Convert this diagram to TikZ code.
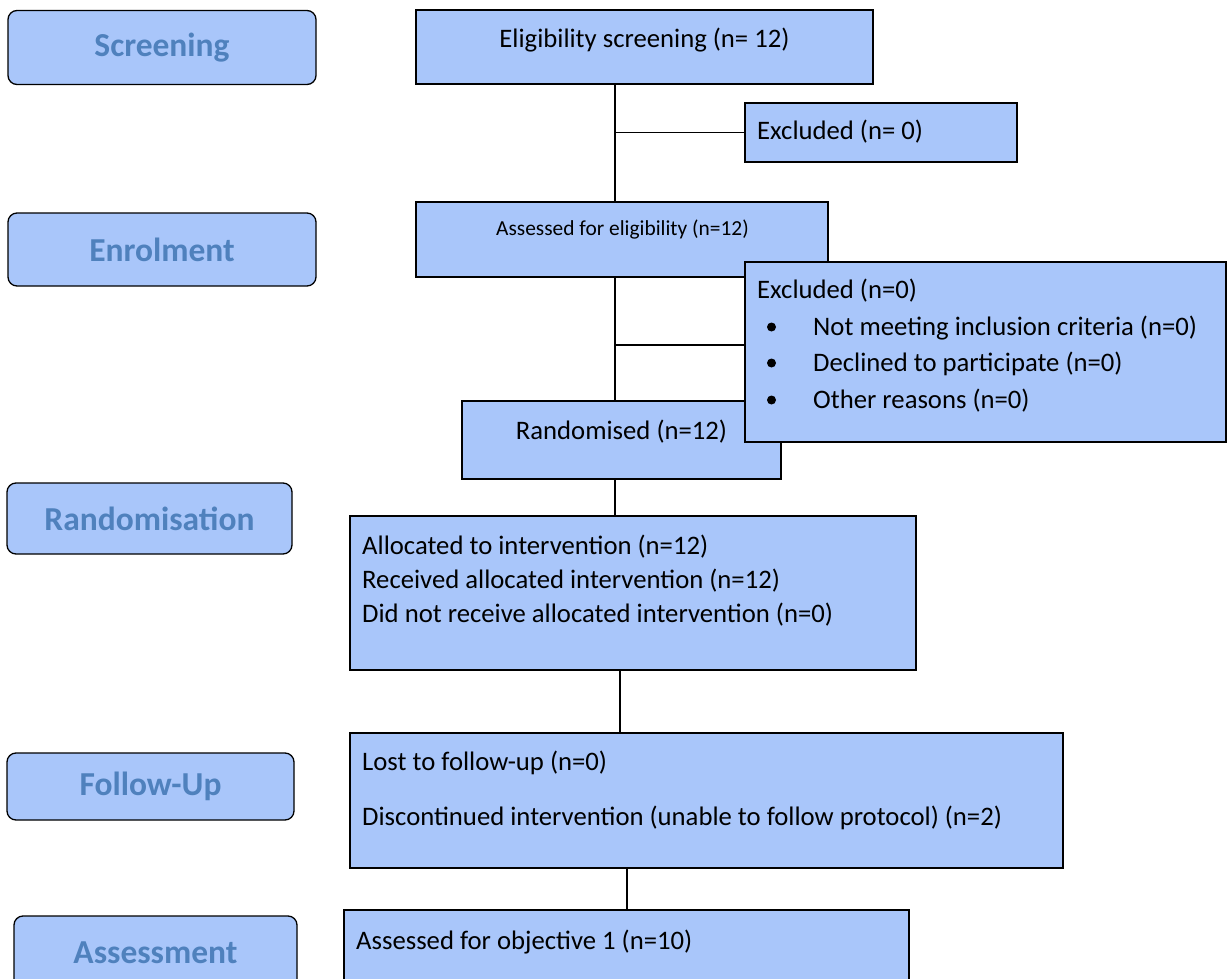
\documentclass[tikz,border=0pt]{standalone}
\usepackage{fontspec}
\setmainfont{Carlito}
\usetikzlibrary{calc}
\definecolor{boxfill}{RGB}{169,198,250}
\definecolor{stagetext}{RGB}{79,129,189}
\begin{document}
\begin{tikzpicture}[x=1pt,y=-1pt,
  box/.style={draw=black, line width=1.3pt, fill=boxfill, rectangle, inner sep=0pt},
  stage/.style={box, rounded corners=9pt, font=\fontsize{33.5}{38}\selectfont\bfseries, text=stagetext},
  txt/.style={font=\fontsize{26.7}{31}\selectfont, inner sep=0pt, anchor=base west},
  ctxt/.style={txt, anchor=base},
  small/.style={font=\fontsize{21.4}{25}\selectfont, inner sep=0pt, anchor=base},
  link/.style={line width=1.3pt}]
\useasboundingbox (0,0) rectangle (1227,979);
\clip (0,0) rectangle (1227,979);
\fill[white] (0,0) rectangle (1227,979);

% stage labels on the left
\node[stage, minimum width=308pt, minimum height=74pt] (scr) at (162,47.5) {Screening};
\node[stage, minimum width=308pt, minimum height=73pt] (enr) at (162,249.5) {Enrolment};
\node[stage, minimum width=285pt, minimum height=71pt] (rnd) at (149.5,518.5) {Randomisation};
\node[stage, minimum width=287pt, minimum height=67pt] (fup) at (150.5,786.5) {Follow-Up};
\node[stage, minimum width=283pt, minimum height=74pt] (ass) at (155.5,953) {Assessment};

% flow boxes
\node[box, minimum width=457pt, minimum height=74pt] (elig) at (644.5,47) {};
\node[box, minimum width=272pt, minimum height=59pt] (excl1) at (881,132.5) {};
\node[box, minimum width=412pt, minimum height=75pt] (assess) at (622,239.5) {};
\node[box, minimum width=319pt, minimum height=78pt] (rand) at (621.5,440) {};
\node[box, minimum width=481pt, minimum height=180pt] (excl2) at (985.5,352) {};
\node[box, minimum width=566pt, minimum height=154pt] (alloc) at (633,593) {};
\node[box, minimum width=713pt, minimum height=135pt] (lost) at (706.5,800.5) {};
\node[box, minimum width=565pt, minimum height=90pt] (obj) at (626.5,955) {};

% box texts
\node[ctxt] (t-elig) at (644.5,47.5) {Eligibility screening (n= 12)};
\node[txt] (t-excl1) at (757,139.5) {Excluded (n= 0)};
\node[small] (t-assess) at (622.5,235) {Assessed for eligibility (n=12)};
\node[txt] (t-excl2) at (757,298) {Excluded (n=0)};
\foreach \y/\s in {335/Not meeting inclusion criteria (n=0),371/Declined to participate (n=0),408/Other reasons (n=0)}{
  \fill (771.5,\y-8) circle (4.5pt);
  \node[txt] at (813,\y) {\s};
}
\node[ctxt] (t-rand) at (621.5,439) {Randomised (n=12)};
\node[txt] (t-al1) at (362,554) {Allocated to intervention (n=12)};
\node[txt] (t-al2) at (362,588) {Received allocated intervention (n=12)};
\node[txt] (t-al3) at (362,622) {Did not receive allocated intervention (n=0)};
\node[txt] (t-lost1) at (362,770) {Lost to follow-up (n=0)};
\node[txt] (t-lost2) at (362,825) {Discontinued intervention (unable to follow protocol) (n=2)};
\node[txt] (t-obj) at (356,949) {Assessed for objective 1 (n=10)};

% connectors
\coordinate (trunk) at (615,0);
\coordinate (br2) at (615,345);
\draw[link] (trunk |- elig.south) -- (trunk |- assess.north);
\draw[link] (trunk |- excl1.west) -- (excl1.west);
\draw[link] (trunk |- assess.south) -- (trunk |- rand.north);
\draw[link] (br2) -- (br2 -| excl2.west);
\draw[link] (trunk |- rand.south) -- (trunk |- alloc.north);
\draw[link] (620,0 |- alloc.south) -- (620,0 |- lost.north);
\draw[link] (627,0 |- lost.south) -- (627,0 |- obj.north);
\end{tikzpicture}
\end{document}
